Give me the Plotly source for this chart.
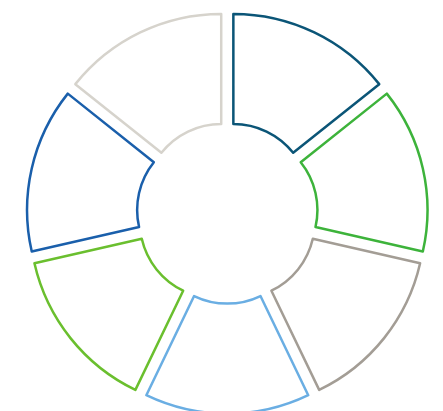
import plotly.graph_objects as go

labels = ["Segment 1", "Segment 2", "Segment 3", "Segment 4", "Segment 5", "Segment 6", "Segment 7"]
values = [1, 1, 1, 1, 1, 1, 1]
outline_colors = ["#0b5577", "#3db33b", "#a39d95", "#6aaee3", "#6abf2e", "#1a5fab", "#d6d3cc"]

fig = go.Figure(go.Pie(
    labels=labels,
    values=values,
    sort=False,
    direction="clockwise",
    rotation=0,
    hole=0.41,
    pull=[0.075] * len(values),
    textinfo="none",
    marker=dict(colors=["#ffffff"] * len(values),
                line=dict(color=outline_colors, width=2.5)),
    domain=dict(x=[0.03, 0.96], y=[0.013, 0.989]),
    showlegend=False,
))
fig.update_layout(
    width=443, height=411,
    margin=dict(l=0, r=0, t=0, b=0),
    paper_bgcolor="white",
    plot_bgcolor="white",
)
fig.write_html("out.html")
